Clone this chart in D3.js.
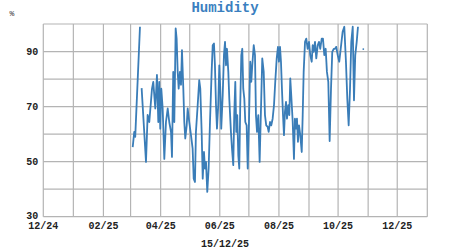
<!DOCTYPE html>
<html><head><meta charset="utf-8">
<script src="https://cdn.jsdelivr.net/npm/d3@7"></script>
<style>body{margin:0;background:#fff}svg{display:block}</style>
</head><body>
<svg id="c" width="450" height="250"></svg>
<script>
// Day of year 2025 (fractional) and relative humidity (%); null = gap in record
const dayOfYear = [62.2,63.8,64.8,69.7,70.5,71.4,75.9,77.6,79.3,82.1,83.4,85.5,87.2,88.6,89.6,90.6,91.7,93.1,94.8,96.5,98.3,99.9,101.7,102.7,104.0,105.1,106.5,107.5,108.6,109.6,110.9,112.0,113.0,114.4,115.4,116.4,117.9,118.9,120.5,122.3,124.0,125.1,126.4,127.4,129.2,130.8,131.9,133.3,134.4,135.7,136.7,137.8,139.1,140.5,141.9,143.6,144.7,146.0,147.0,148.1,149.1,150.4,151.5,152.5,153.5,155.0,156.3,157.4,158.4,159.4,160.8,161.8,163.5,164.6,165.9,166.9,168.0,169.0,170.0,171.1,172.1,173.1,174.2,175.2,176.2,177.3,178.3,179.7,180.8,182.1,183.4,184.5,185.5,187.0,188.3,189.3,190.4,191.7,193.1,194.5,195.8,197.3,198.6,199.9,201.4,202.4,203.8,205.1,206.5,207.9,209.2,210.7,212.0,213.0,214.1,215.1,216.1,217.2,218.2,219.2,220.3,221.3,222.6,223.7,224.7,225.7,227.2,228.5,229.5,230.6,231.6,232.6,233.7,235.0,236.5,237.5,238.5,239.9,241.2,242.6,244.0,245.3,246.8,247.8,248.8,250.2,251.5,253.0,254.3,255.6,257.1,258.4,259.8,261.2,262.5,263.9,265.3,266.7,268.0,269.5,270.8,272.1,273.6,275.2,276.7,278.7,280.4,282.1,283.5,284.9,286.3,287.6,289.1,290.4,291.7,293.2,294.5,297.0,300.0];
const humidity = [55.3,60.8,59,99,null,76.7,49.9,67,64.4,76.5,79,69.3,81.5,64.4,79,62,76.5,69.3,51,64.4,69.3,64.4,60.8,51.7,82.6,64.4,98.4,94.7,82.6,76.5,82.6,77.9,90.5,76.5,64.4,58.4,63.2,69.3,64.4,59.6,54.7,43.8,42.6,60.8,70.5,79.6,76.5,60.8,43.8,53.5,47.5,49.9,39,47.5,64.4,82.6,92.3,92.9,85,70.5,62,70.5,85,76.5,62,74,88.7,93.5,85,91,82.6,72.9,60.8,54.7,48.7,66.9,79,60.8,66.9,52.3,47.5,70.5,88.7,91,76.5,72.9,64.4,63.2,47.5,64.4,86.3,79,85,92.3,88.7,66.9,60.8,66.9,49.9,69.3,87.5,82.6,66.9,63.2,62.6,60.8,64.4,63.2,65.6,70.5,79,87.5,91.7,86.3,91.7,86.3,76.5,66.9,59.6,68.1,71.7,65.6,70.5,66.9,80.2,74.1,64.4,51,65.6,62,65.6,57.2,63.2,59.6,53.5,66.9,82.6,93.5,94.7,91,93.5,88.7,86.3,92.3,89.9,93.5,87.5,92.3,93.5,91,94.7,94.7,88.7,91,82.6,79,57.5,76.5,89.9,91,91,91.7,88.7,86.3,91,97.2,99,86.3,72.9,63.2,76.5,93.5,99,72.3,88.7,93.5,99,null,90.9];
const yTicks = [30,40,50,60,70,80,90,100];
const yLabels = [30,50,70,90];
const title = "Humidity";
const unit = "%";
const footer = "15/12/25";

const svg = d3.select("#c");
const L = 43.3, R = 427.3, T = 24, B = 216.7;
const x = d3.scaleUtc().domain([new Date(Date.UTC(2024,11,1)), new Date(Date.UTC(2026,0,1))]).range([L, R]);
const y = d3.scaleLinear().domain([30,100]).range([B, T]);
const toDate = d => new Date(Date.UTC(2025,0,1) + (d-1)*86400000);
const data = dayOfYear.map((d,i)=>({t:toDate(d), v:humidity[i]}));

const grid = svg.append("g").attr("stroke","#b4b4b4").attr("stroke-width",1.2);
const months = d3.utcMonth.range(x.domain()[0], d3.utcDay.offset(x.domain()[1],1));
grid.selectAll("line.v").data(months).join("line")
  .attr("x1",d=>x(d)).attr("x2",d=>x(d)).attr("y1",T).attr("y2",B);
grid.selectAll("line.h").data(yTicks).join("line")
  .attr("x1",L).attr("x2",R).attr("y1",d=>y(d)).attr("y2",d=>y(d));

const font = "'Liberation Mono', 'Courier New', monospace";
const fmt = d3.utcFormat("%m/%y");
const labelMonths = months.filter((d,i)=>i%2===0);
svg.append("g").selectAll("text").data(labelMonths).join("text")
  .attr("x",d=>x(d)).attr("y",B+12.5).attr("text-anchor","middle")
  .attr("font-family",font).attr("font-weight","bold").attr("font-size",10).attr("fill","#222")
  .text(d=>fmt(d));
svg.append("g").selectAll("text").data(yLabels).join("text")
  .attr("x",L-5).attr("y",d=>y(d)+(d===30?2.5:3.5)).attr("text-anchor","end")
  .attr("font-family",font).attr("font-weight","bold").attr("font-size",10).attr("fill","#222")
  .text(d=>d);

const line = d3.line().defined(d=>d.v!==null).x(d=>x(d.t)).y(d=>y(d.v));
svg.append("path").datum(data).attr("d",line).attr("fill","none")
  .attr("stroke","#3a7db8").attr("stroke-width",1.8).attr("stroke-linejoin","round");
// isolated points
svg.append("g").selectAll("circle").data(data.filter((d,i)=>d.v!==null && (i===0||data[i-1].v===null) && (i===data.length-1||data[i+1].v===null)))
  .join("circle").attr("cx",d=>x(d.t)).attr("cy",d=>y(d.v)).attr("r",0.9).attr("fill","#3a7db8");

svg.append("text").attr("x",225).attr("y",12).attr("text-anchor","middle")
  .attr("font-family",font).attr("font-weight","bold").attr("font-size",14).attr("fill","#3a7fc0").text(title);
svg.append("text").attr("x",12).attr("y",16).attr("text-anchor","middle")
  .attr("font-family",font).attr("font-size",8).attr("fill","#333").text(unit);
svg.append("text").attr("x",225).attr("y",247).attr("text-anchor","middle")
  .attr("font-family",font).attr("font-weight","bold").attr("font-size",10).attr("fill","#222").text(footer);
</script>
</body></html>
